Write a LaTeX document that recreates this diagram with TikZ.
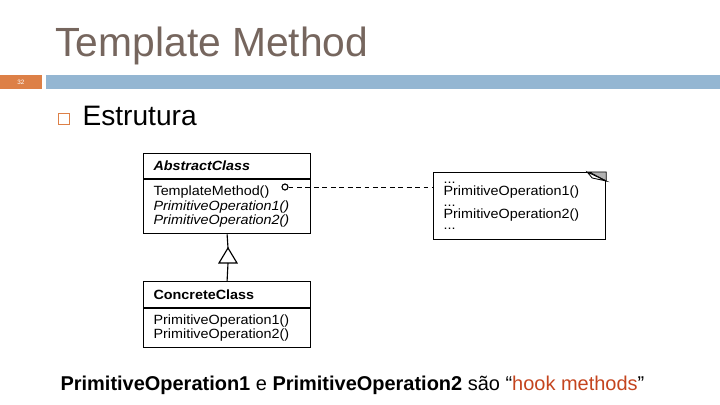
\documentclass[tikz,border=0pt]{standalone}
\usepackage{fontspec}
\setmainfont{Liberation Sans}
\newfontfamily\umlfont[FakeStretch=1.075]{Liberation Sans}
\usetikzlibrary{positioning,calc}
\definecolor{titlegray}{RGB}{118,102,94}
\definecolor{slideorange}{RGB}{221,128,71}
\definecolor{barblue}{RGB}{148,182,210}
\definecolor{hookred}{RGB}{196,68,30}
\tikzset{
  slidetitle/.style={anchor=base west,inner sep=0pt,text=titlegray,font=\fontsize{29}{31}\selectfont},
  pagenum/.style={inner sep=0pt,text=white,font=\fontsize{4.5}{5}\selectfont},
  bullettext/.style={anchor=base west,inner sep=0pt,font=\fontsize{20}{22}\selectfont},
  classname/.style={draw,inner sep=0pt,minimum width=4.175cm,text width=3.675cm,align=left,font=\umlfont\fontsize{9.5}{10.4}\selectfont\bfseries},
  classops/.style={draw,inner sep=0pt,minimum width=4.175cm,text width=3.675cm,align=left,font=\umlfont\fontsize{9.5}{10.4}\selectfont},
  notebox/.style={draw,inner sep=0pt,minimum width=4.3cm,minimum height=1.675cm,text width=3.8cm,align=left,font=\umlfont\fontsize{9.5}{8.2}\selectfont},
  hook/.style={draw,circle,inner sep=0pt,minimum size=0.15cm,fill=white},
}

\begin{document}
\begin{tikzpicture}[x=0.025cm,y=-0.025cm,line width=0.8pt]
\useasboundingbox (0,0) rectangle (720,405);

% slide header
\node[slidetitle] (title) at (55,57) {Template Method};
\fill[slideorange] (0,75) rectangle (42,89);
\node[pagenum] (num) at (21,82) {32};
\fill[barblue] (46,75) rectangle (720,89);
\draw[slideorange,line width=1.1pt] (58.5,113.5) rectangle (69.5,124.5);
\node[bullettext] (estr) at (82,126) {Estrutura};

% abstract class
\node[classname,minimum height=0.625cm,anchor=north west] (abs) at (143,153) {\textit{AbstractClass}};
\node[classops,minimum height=1.35cm,below=0pt of abs] (absops)
  {TemplateMethod()\\ \textit{PrimitiveOperation1()}\\ \textit{PrimitiveOperation2()}};
\node[hook] (tm) at (285,187) {};

% note with folded corner
\node[notebox,anchor=north west] (note) at (433,172)
  {...\\ PrimitiveOperation1()\\ ...\\ PrimitiveOperation2()\\ ...};
\filldraw[fill=gray!60,line width=0.6pt] ($(note.north east)+(-17,0)$) -- (note.north east) -- ($(note.north east)+(0,9)$) -- cycle;
\filldraw[fill=white,line width=0.6pt] ($(note.north east)+(-19,0)$) -- ($(note.north east)+(-14,6)$) -- ($(note.north east)+(0,9)$) -- cycle;
\draw[line width=0.6pt,dash pattern=on 3.5pt off 2.5pt] (tm) -- (tm -| note.west);

% concrete class
\node[classname,minimum height=0.65cm,anchor=north west] (conc) at (143,281) {ConcreteClass};
\node[classops,minimum height=0.975cm,below=0pt of conc] (concops)
  {PrimitiveOperation1()\\ PrimitiveOperation2()};

% inheritance
\coordinate (genapex) at (228,248);
\coordinate (genbase) at (228,263);
\draw (absops.south) -- (genapex);
\draw (genapex) -- ++(9,15) -- ++(-18,0) -- cycle;
\draw (genbase) -- (conc.north);

% footer
\node[anchor=base west,inner sep=0pt,font=\fontsize{14.2}{16}\selectfont] (hooktext) at (60,390)
  {\textbf{PrimitiveOperation1} e \textbf{PrimitiveOperation2} são “\textcolor{hookred}{hook methods}”};

\end{tikzpicture}
\end{document}
